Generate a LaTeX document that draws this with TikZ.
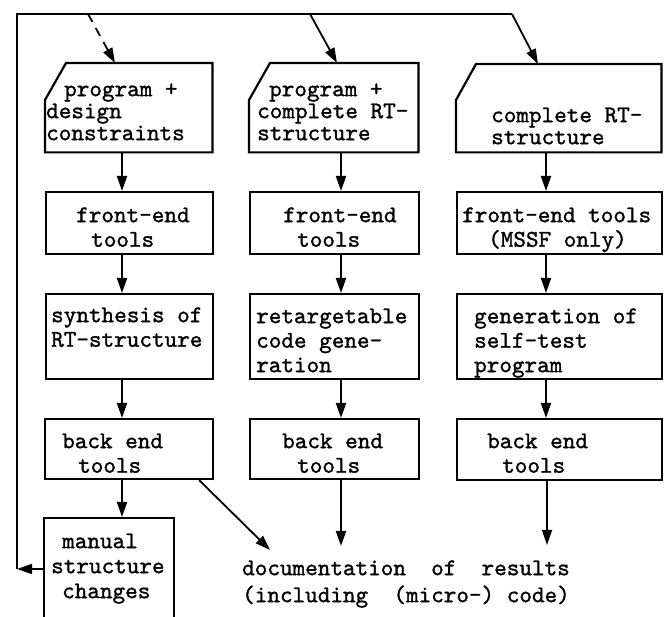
\documentclass[tikz,border=0pt]{standalone}
\usepackage{fontspec}
\newfontfamily\typew{lmmono10-regular.otf}[FakeBold=1.2]
\usetikzlibrary{arrows.meta}
\begin{document}
\begin{tikzpicture}[x=1pt,y=-1pt,
  box/.style={draw, line width=2.2pt, rectangle, anchor=north west, inner sep=0pt},
  ghost/.style={rectangle, anchor=north west, inner sep=0pt},
  chamf/.style={line width=2.2pt, line join=miter},
  txt/.style={anchor=north west, inner sep=0pt, align=left, yshift=17.15pt,
    font=\typew\fontsize{24}{24.5}\selectfont},
  txtt/.style={anchor=north west, inner sep=0pt, align=left, yshift=15.4pt,
    font=\typew\fontsize{24}{22}\selectfont},
  txtm/.style={anchor=north west, inner sep=0pt, align=left, yshift=17.5pt,
    font=\typew\fontsize{24}{25}\selectfont},
  txtd/.style={anchor=north west, inner sep=0pt, align=left, yshift=18.9pt,
    font=\typew\fontsize{24}{27}\selectfont},
  arr/.style={line width=1.8pt, -{Triangle[length=15pt,width=10pt]}},
  loopline/.style={line width=1.8pt, line join=miter}]
\useasboundingbox (0,0) rectangle (665,617);
\clip (0,0) rectangle (665,617);

% column x positions of the vertical connectors
\coordinate (xa) at (122,0);
\coordinate (xb) at (341,0);
\coordinate (xc) at (546,0);

% ---- column 1
\node[ghost, minimum width=167pt, minimum height=89pt] (A1) at (45,63) {};
\draw[chamf] ([xshift=21pt]A1.north west) -- (A1.north east) -- (A1.south east)
  -- (A1.south west) -- ([yshift=-37pt]A1.north west) -- cycle;
\node[box, minimum width=167pt, minimum height=62pt] (A2) at (45,191) {};
\node[box, minimum width=167pt, minimum height=85pt] (A3) at (45,293) {};
\node[box, minimum width=168pt, minimum height=60pt] (A4) at (44,418) {};
\node[box, minimum width=130pt, minimum height=123pt] (A5) at (43,517) {};

% ---- column 2
\node[ghost, minimum width=169pt, minimum height=89pt] (B1) at (249,63) {};
\draw[chamf] ([xshift=21pt]B1.north west) -- (B1.north east) -- (B1.south east)
  -- (B1.south west) -- ([yshift=-37pt]B1.north west) -- cycle;
\node[box, minimum width=169pt, minimum height=62pt] (B2) at (249,191) {};
\node[box, minimum width=169pt, minimum height=85pt] (B3) at (249,293) {};
\node[box, minimum width=169pt, minimum height=60pt] (B4) at (249,418) {};

% ---- column 3
\node[ghost, minimum width=205pt, minimum height=88pt] (C1) at (456,64) {};
\draw[chamf] ([xshift=20pt]C1.north west) -- (C1.north east) -- (C1.south east)
  -- (C1.south west) -- ([yshift=-36pt]C1.north west) -- cycle;
\node[box, minimum width=205pt, minimum height=62pt] (C2) at (456,191) {};
\node[box, minimum width=205pt, minimum height=85pt] (C3) at (456,293) {};
\node[box, minimum width=205pt, minimum height=61pt] (C4) at (456,418) {};

% ---- texts
\node[txtt] (tA1) at (46,96) {\strut\hspace*{18pt}program +\\design\\constraints};
\node[txtt] (tB1) at (257,96) {\strut\hspace*{12pt}program +\\complete RT-\\structure};
\node[txtt] (tC1) at (491,122) {\strut complete RT-\\structure};

\node[txt] (tA2) at (76,222) {\strut front-end\\\hspace*{15pt}tools};
\node[txt] (tB2) at (283,222) {\strut front-end\\\hspace*{14pt}tools};
\node[txt] (tC2) at (462,222) {\strut front-end tools\\\hspace*{26pt}(MSSF only)};

\node[txt] (tA3) at (51,322) {\strut synthesis of\\RT-structure};
\node[txt] (tB3) at (256,323) {\strut retargetable\\code gene-\\ration};
\node[txt] (tC3) at (474,323) {\strut generation of\\self-test\\program};

\node[txt] (tA4) at (62,448) {\strut back end\\\hspace*{16pt}tools};
\node[txt] (tB4) at (282,448) {\strut back end\\\hspace*{15pt}tools};
\node[txt] (tC4) at (487,448) {\strut back end\\\hspace*{15pt}tools};

\node[txtm] (tA5) at (51,548) {\strut\hspace*{11pt}manual\\structure\\\hspace*{11pt}changes};

\node[txtd] (doc) at (242,575) {\strut documentation~~of~~results\\(including~~(micro-)~code)};

% ---- vertical connectors
\draw[arr] (A1.south -| xa) -- (A2.north -| xa);
\draw[arr] (A2.south -| xa) -- (A3.north -| xa);
\draw[arr] (A3.south -| xa) -- (A4.north -| xa);
\draw[arr] (A4.south -| xa) -- (A5.north -| xa);

\draw[arr] (B1.south -| xb) -- (B2.north -| xb);
\draw[arr] (B2.south -| xb) -- (B3.north -| xb);
\draw[arr] (B3.south -| xb) -- (B4.north -| xb);

\draw[arr] (C1.south -| xc) -- (C2.north -| xc);
\draw[arr] (C2.south -| xc) -- (C3.north -| xc);
\draw[arr] (C3.south -| xc) -- (C4.north -| xc);

% ---- to documentation
\coordinate (d1) at (270,550);
\coordinate (d2) at (341,546);
\coordinate (d3) at (547,545);
\draw[arr] ([xshift=-15pt]A4.south east) -- (d1);
\draw[arr] (B4.south -| d2) -- (d2);
\draw[arr] (C4.south -| d3) -- (d3);

% ---- feedback loop
\coordinate (L) at (17,569);
\coordinate (T0) at (17,14);
\coordinate (T1) at (88,14);
\coordinate (T2) at (310,14);
\coordinate (T3) at (512,14);
\draw[arr] (L -| A5.west) -- (L);
\draw[loopline] (L) -- (T0) -- (T3);
\draw[arr, dash pattern=on 9pt off 7pt] (T1) -- ([xshift=70pt]A1.north west);
\draw[arr] (T2) -- ([xshift=88pt]B1.north west);
\draw[arr] (T3) -- ([xshift=82pt]C1.north west);
\end{tikzpicture}
\end{document}
